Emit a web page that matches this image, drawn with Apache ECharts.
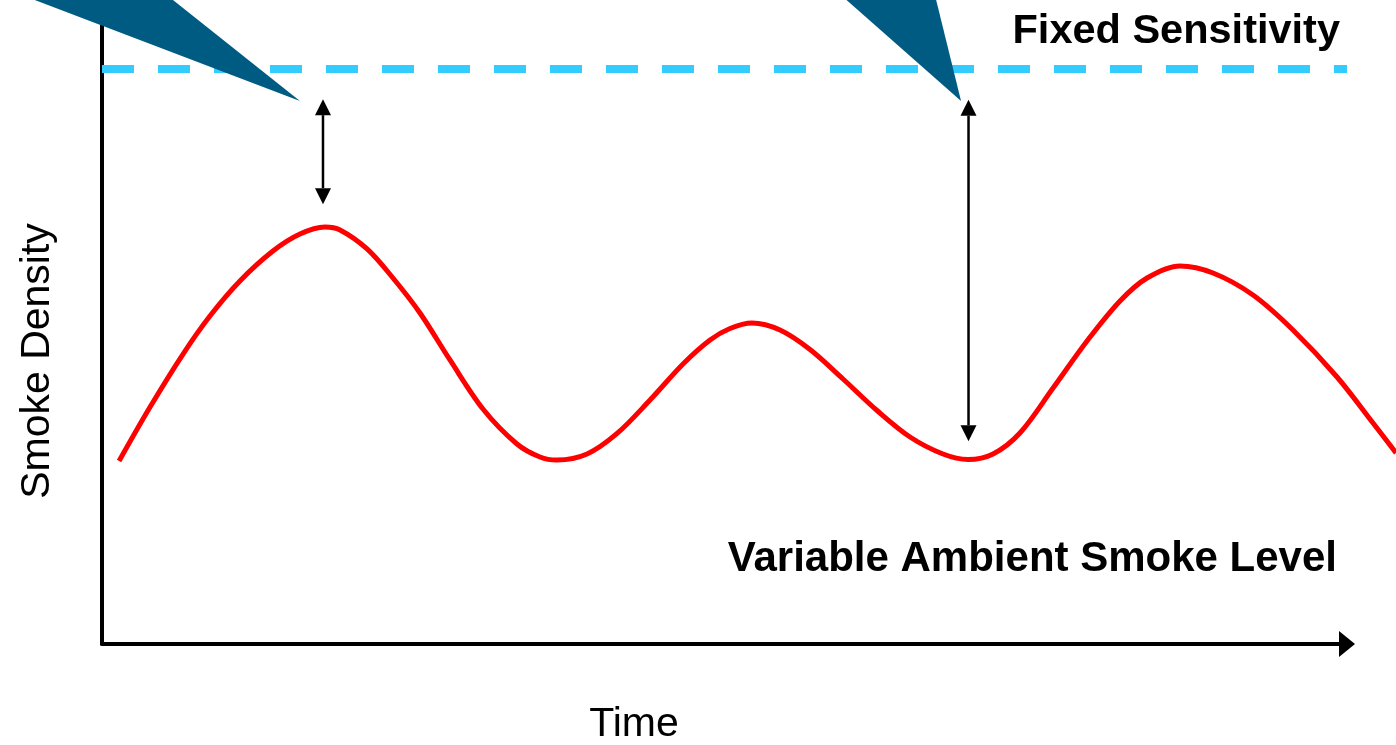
<!DOCTYPE html>
<html>
<head>
<meta charset="utf-8">
<script src="https://cdn.jsdelivr.net/npm/echarts@6/dist/echarts.min.js"></script>
<style>
  html, body { margin: 0; padding: 0; background: #ffffff; overflow: hidden; }
  #chart { width: 1396px; height: 745px; }
</style>
</head>
<body>
<div id="chart"></div>
<script>
// ---- data (Time: 0..100 along the drawn axis, Smoke Density: 0..100, arbitrary units) ----
const timeValues = [1.37, 3.86, 6.51, 8.67, 11.08, 13.73, 15.90, 17.91, 19.12, 21.29, 23.37, 25.54, 27.95, 30.60, 33.33, 35.18, 36.55, 38.96, 41.37, 44.02, 46.67, 48.84, 50.44, 52.21, 54.46, 56.87, 59.52, 62.25, 64.90, 67.55, 69.56, 71.57, 73.73, 76.39, 79.12, 81.77, 83.94, 86.59, 89.24, 92.45, 95.66, 99.20, 102.09, 103.94];
const ambientSmoke = [28.42, 36.80, 45.03, 50.93, 56.37, 61.02, 63.66, 64.75, 64.29, 61.34, 56.83, 51.40, 44.10, 36.49, 31.06, 29.04, 28.57, 29.50, 32.69, 37.89, 43.48, 47.20, 48.99, 49.84, 48.76, 45.73, 41.15, 36.26, 32.14, 29.50, 28.65, 29.50, 32.76, 39.75, 47.05, 53.26, 56.83, 58.70, 57.61, 54.19, 48.76, 41.46, 34.32, 29.66];
const fixedSensitivity = 89.3;
const sensitivityRange = [0, 100];
// gap arrows: [time, from (threshold side), to (curve side)]
const gapArrows = [[17.75, 84.6, 68.3], [69.6, 84.5, 31.5]];
// callout pointers: three vertices each [x1, y1, x2, y2, x3, y3]
const callouts = [[-5.4, 100, 5.7, 100, 15.9, 84.3], [59.8, 100, 67.0, 100, 69.0, 84.3]];
const axisNames = { x: 'Time', y: 'Smoke Density' };
const labels = { fixed: 'Fixed Sensitivity', ambient: 'Variable Ambient Smoke Level' };

const FONT = '"Liberation Sans", Arial, Helvetica, sans-serif';
const chart = echarts.init(document.getElementById('chart'), null, { renderer: 'canvas' });

const curveData = timeValues.map((t, i) => [t, ambientSmoke[i]]);

// layout of the visible axes; the curve runs on an overlay grid reaching the right edge
const GRID_LEFT = 102, GRID_RIGHT = 49, GRID_BOTTOM = 101, W = 1396;
const overlayMax = 100 * (W - GRID_LEFT) / (W - GRID_RIGHT - GRID_LEFT);

const hiddenAxis = { show: false };

const option = {
  animation: false,
  backgroundColor: '#ffffff',
  grid: [
    { left: GRID_LEFT, right: GRID_RIGHT, top: 0, bottom: GRID_BOTTOM, containLabel: false, outerBoundsMode: 'none' },
    { left: GRID_LEFT, right: 0, top: 0, bottom: GRID_BOTTOM, containLabel: false, outerBoundsMode: 'none' }
  ],
  xAxis: [
    {
      type: 'value', min: 0, max: 100, gridIndex: 0,
      name: axisNames.x, nameLocation: 'middle', nameGap: 60,
      nameTextStyle: { fontFamily: FONT, fontSize: 41, color: '#000', padding: [0, 181, 0, 0] },
      axisLine: { show: true, symbol: ['none', 'triangle'], symbolSize: [26, 16], lineStyle: { color: '#000', width: 4 } },
      axisTick: { show: false }, axisLabel: { show: false }, splitLine: { show: false }
    },
    Object.assign({ type: 'value', min: 0, max: overlayMax, gridIndex: 1 }, hiddenAxis)
  ],
  yAxis: [
    {
      type: 'value', min: 0, max: 100, gridIndex: 0,
      name: axisNames.y, nameLocation: 'middle', nameGap: 44, nameRotate: 90,
      nameTextStyle: { fontFamily: FONT, fontSize: 41, color: '#000', padding: [0, 78, 0, 0] },
      axisLine: { show: true, lineStyle: { color: '#000', width: 4 } },
      axisTick: { show: false }, axisLabel: { show: false }, splitLine: { show: false }
    },
    Object.assign({ type: 'value', min: 0, max: 100, gridIndex: 1 }, hiddenAxis)
  ],
  graphic: [
    { type: 'text', right: 56, top: 11, z: 10,
      style: { text: labels.fixed, font: 'bold 41.5px ' + FONT, fill: '#000' } },
    { type: 'text', right: 59, top: 538, z: 10,
      style: { text: labels.ambient, font: 'bold 42px ' + FONT, fill: '#000' } }
  ],
  series: [
    {
      name: labels.fixed, type: 'line', z: 3, xAxisIndex: 0, yAxisIndex: 0,
      data: [[sensitivityRange[0], fixedSensitivity], [sensitivityRange[1], fixedSensitivity]],
      symbol: 'none', silent: true,
      lineStyle: { color: '#33CCFF', width: 8, type: [32, 24], cap: 'butt' }
    },
    {
      name: labels.ambient, type: 'line', z: 4, xAxisIndex: 1, yAxisIndex: 1, clip: false,
      data: curveData, smooth: 0.33, symbol: 'none', silent: true,
      lineStyle: { color: '#FF0000', width: 5, join: 'round' }
    },
    {
      name: 'gap', type: 'custom', z: 5, silent: true, xAxisIndex: 0, yAxisIndex: 0,
      encode: { x: 0, y: [1, 2] },
      data: gapArrows,
      renderItem: function (params, api) {
        const a = api.coord([api.value(0), api.value(1)]);
        const b = api.coord([api.value(0), api.value(2)]);
        const h = 16, w = 8;
        const dir = b[1] > a[1] ? 1 : -1;
        return {
          type: 'group',
          children: [
            { type: 'line', shape: { x1: a[0], y1: a[1] + dir * h, x2: b[0], y2: b[1] - dir * h }, style: { stroke: '#000', lineWidth: 2.5 } },
            { type: 'polygon', shape: { points: [[a[0], a[1]], [a[0] - w, a[1] + dir * h], [a[0] + w, a[1] + dir * h]] }, style: { fill: '#000' } },
            { type: 'polygon', shape: { points: [[b[0], b[1]], [b[0] - w, b[1] - dir * h], [b[0] + w, b[1] - dir * h]] }, style: { fill: '#000' } }
          ]
        };
      }
    },
    {
      name: 'callout', type: 'custom', z: 6, silent: true, clip: false, xAxisIndex: 0, yAxisIndex: 0,
      encode: { x: [0, 2, 4], y: [1, 3, 5] },
      data: callouts,
      renderItem: function (params, api) {
        const p1 = api.coord([api.value(0), api.value(1)]);
        const p2 = api.coord([api.value(2), api.value(3)]);
        const p3 = api.coord([api.value(4), api.value(5)]);
        return { type: 'polygon', shape: { points: [p1, p2, p3] }, style: { fill: '#005B82' } };
      }
    }
  ]
};
chart.setOption(option);
</script>
</body>
</html>
